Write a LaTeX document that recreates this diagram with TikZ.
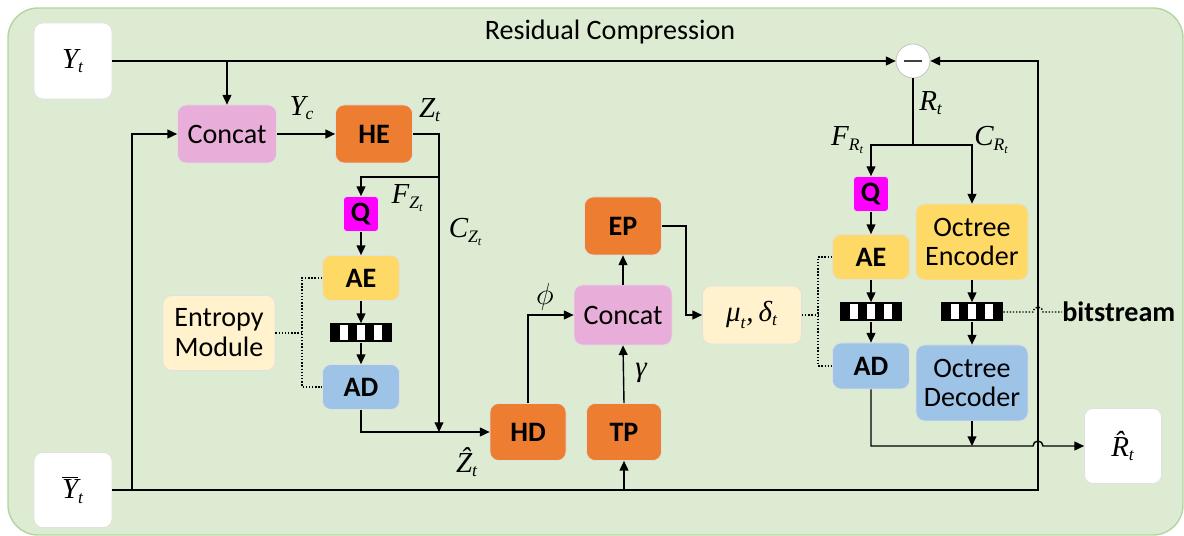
\documentclass[tikz,border=0pt]{standalone}
\usepackage{fontspec}
\setmainfont{Carlito}
\newfontfamily\tms{Liberation Serif}
\usetikzlibrary{arrows.meta,calc}
\definecolor{bgc}{HTML}{DDEBD3}
\definecolor{bgb}{HTML}{B5D5A0}
\definecolor{pinkc}{HTML}{E8ADD8}
\definecolor{orangec}{HTML}{ED7D31}
\definecolor{magc}{HTML}{FF00FF}
\definecolor{yelc}{HTML}{FFD966}
\definecolor{bluc}{HTML}{9DC3E6}
\definecolor{lyc}{HTML}{FFF2CC}
\newcommand\mv[1]{\hbox{\tms\itshape #1}}
\newcommand\ms[1]{\hbox{\fontsize{10}{11}\selectfont\tms\itshape #1}}
\newcommand\mss[1]{\hbox{\fontsize{7}{8}\selectfont\tms\itshape #1}}
\newcommand\mybar[3]{%
  \node[barbox] (#1) at (#2,#3) {};
  \foreach \dx in {-17,0,17} {\fill[white] (#2+\dx-4,#3-7.5) rectangle (#2+\dx+4,#3+7.5);}
}
\begin{document}
\begin{tikzpicture}[x=0.02cm,y=-0.02cm,
  font=\fontsize{16}{17}\selectfont,
  blk/.style={rounded corners=5pt, draw=black!12, line width=0.4pt, inner sep=0pt, align=center},
  sz/.style 2 args={minimum width=#1*0.02cm, minimum height=#2*0.02cm},
  barbox/.style={rectangle, fill=black, inner sep=0pt, minimum width=1.24cm, minimum height=0.38cm},
  lab/.style={inner sep=0pt, font=\fontsize{16.5}{19}\selectfont},
  ln/.style={line width=0.8pt},
  arr/.style={line width=0.8pt, -{Triangle[length=5.5pt,width=5pt]}},
  dot/.style={line width=0.8pt, densely dotted}]
\useasboundingbox (0,0) rectangle (1184,536);
\draw[draw=bgb, fill=bgc, line width=0.8pt, rounded corners=0.6cm] (8,8) rectangle (1183,535);

\node (title) at (610,32) {Residual Compression};

% nodes
\node[blk, fill=white, sz={78}{76}, font=\fontsize{16.5}{19}\selectfont] (yt) at (73,61) {$\mv{Y}_{\ms{t}}$};
\node[blk, fill=white, sz={78}{75}, font=\fontsize{16.5}{19}\selectfont] (yb) at (73,490) {$\overline{\mv{Y}}_{\ms{t}}$};
\node[blk, fill=white, sz={77}{75}, font=\fontsize{16.5}{19}\selectfont] (rh) at (1123,446) {$\mv{\^{R}}_{\ms{t}}$};
\node[blk, fill=pinkc, sz={99}{58}] (c1) at (227,134) {Concat};
\node[blk, fill=orangec, sz={77}{58}] (he) at (374,134) {\textbf{HE}};
\node[blk, fill=magc, sz={35}{35}, rounded corners=2pt] (q1) at (361,214) {\textbf{Q}};
\node[blk, fill=yelc, sz={77}{45}] (ae1) at (361,278) {\textbf{AE}};
\mybar{bar1}{361}{333}
\node[blk, fill=bluc, sz={77}{45}] (ad1) at (361,387) {\textbf{AD}};
\node[blk, fill=lyc, sz={112}{75}] (em) at (219,333) {Entropy\\Module};
\node[blk, fill=orangec, sz={76}{57}] (hd) at (528,432) {\textbf{HD}};
\node[blk, fill=orangec, sz={75}{57}] (tp) at (624,432) {\textbf{TP}};
\node[blk, fill=pinkc, sz={98}{60}] (c2) at (623,315) {Concat};
\node[blk, fill=orangec, sz={77}{58}] (ep) at (623,226) {\textbf{EP}};
\node[blk, fill=lyc, sz={99}{58}, font=\fontsize{16.5}{19}\selectfont] (mu) at (752,315) {$\mv{μ}_{\ms{t}}\mv{,}\,\mv{δ}_{\ms{t}}$};
\node[circle, fill=white, draw=black!25, line width=0.4pt, minimum size=0.68cm, inner sep=0pt] (minus) at (913,61) {};
\draw[line width=1pt, black!75] ([xshift=-0.18cm]minus.center) -- ([xshift=0.18cm]minus.center);
\node[blk, fill=magc, sz={35}{35}, rounded corners=2pt] (q2) at (871,194) {\textbf{Q}};
\node[blk, fill=yelc, sz={77}{45}] (ae2) at (871,257) {\textbf{AE}};
\mybar{bar2}{871}{312}
\node[blk, fill=bluc, sz={77}{46}] (ad2) at (871,366) {\textbf{AD}};
\node[blk, fill=yelc, sz={112}{76}] (oe) at (972,242) {Octree\\Encoder};
\mybar{bar3}{972}{312}
\node[blk, fill=bluc, sz={112}{76}] (od) at (972,383) {Octree\\Decoder};
\node[anchor=west, inner sep=0pt] (bs) at (1062,312) {\textbf{bitstream}};

% junction coordinates
\coordinate (j1) at (227,61);
\coordinate (rc) at (1038,490);
\coordinate (j2) at (132,490);
\coordinate (j3) at (439,432);
\coordinate (j4) at (439,177);
\coordinate (j5) at (686,226);
\coordinate (d1) at (302,333);
\coordinate (d2) at (818,315);
\coordinate (j6) at (913,145);
\coordinate (h1) at (1033,446);
\coordinate (j7) at (1033,312);
\coordinate (tpb) at (624,490);

% connectors
\draw[arr] (yt.east) -- (minus.west);
\draw[arr] (j1) -- (c1.north);
\draw[arr] (yb.east) -- (rc) |- (minus.east);
\draw[arr] (j2) |- (c1.west);
\draw[arr] (tpb) -- (tp.south);
\draw[arr] (c1.east) -- (he.west);
\draw[arr] (he.east) -| (j3);
\draw[arr] (j4) -| (q1.north);
\draw[arr] (q1.south) -- (ae1.north);
\draw[arr] (ae1.south) -- (bar1.north);
\draw[arr] (bar1.south) -- (ad1.north);
\draw[arr] (ad1.south) |- (hd.west);
\draw[arr] (hd.north) |- (c2.west);
\draw[arr] (tp.north) -- (c2.south);
\draw[arr] (c2.north) -- (ep.south);
\draw[arr] (ep.east) -- (j5) |- (mu.west);
\draw[dot] (em.east) -- (d1);
\draw[dot] (ae1.west) -| (d1) |- (ad1.west);
\draw[dot] (mu.east) -- (d2);
\draw[dot] (ae2.west) -| (d2) |- (ad2.west);
\draw[ln] (minus.south) -- (j6);
\draw[arr] (j6) -| (q2.north);
\draw[arr] (j6) -| (oe.north);
\draw[arr] (q2.south) -- (ae2.north);
\draw[arr] (ae2.south) -- (bar2.north);
\draw[arr] (bar2.south) -- (ad2.north);
\draw[arr] (oe.south) -- (bar3.north);
\draw[arr] (bar3.south) -- (od.north);
\draw[arr] (ad2.south) |- (h1) arc (180:0:0.1cm) -- (rh.west);
\draw[arr] (od.south) -- (od.south |- h1);
\draw[dot] (bar3.east) -- (j7) arc (180:0:0.1cm) -- (bs.west);

% labels
\node[lab] (lyc) at (302,108) {$\mv{Y}_{\ms{c}}$};
\node[lab] (lzt) at (430,110) {$\mv{Z}_{\ms{t}}$};
\node[lab] (lfz) at (408,198) {$\mv{F}_{\ms{Z}_{\mss{t}}}$};
\node[lab] (lcz) at (466,232) {$\mv{C}_{\ms{Z}_{\mss{t}}}$};
\node[lab] (lphi) at (545,297) {$\phi$};
\node[lab] (lzh) at (467,462) {$\mv{\^{Z}}_{\ms{t}}$};
\node[lab] (lgam) at (641,373) {$\mv{γ}$};
\node[lab] (lrt) at (931,103) {$\mv{R}_{\ms{t}}$};
\node[lab] (lfr) at (848,140) {$\mv{F}_{\ms{R}_{\mss{t}}}$};
\node[lab] (lcr) at (992,140) {$\mv{C}_{\ms{R}_{\mss{t}}}$};
\end{tikzpicture}
\end{document}
